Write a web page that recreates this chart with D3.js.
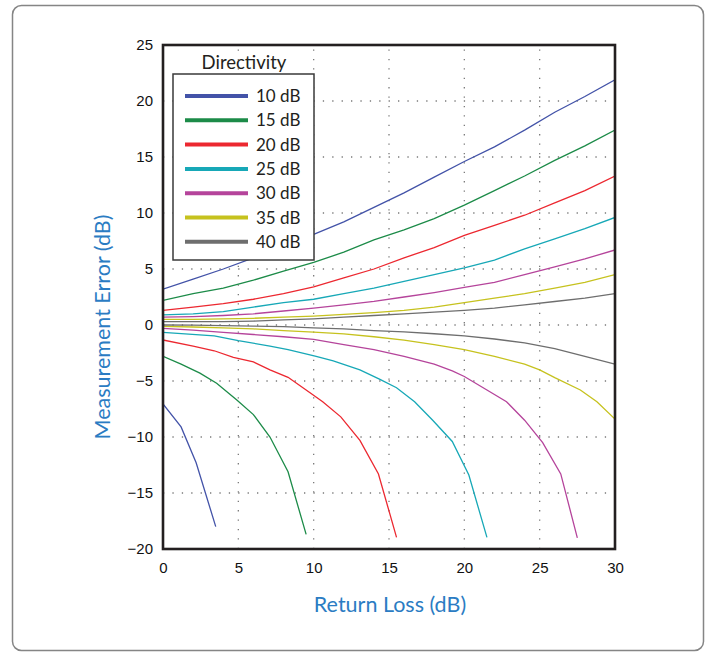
<!DOCTYPE html>
<html><head><meta charset="utf-8">
<script src="https://cdn.jsdelivr.net/npm/d3@7"></script>
<style>body{margin:0;background:#fff}svg{display:block}</style>
</head><body>
<svg id="c" width="709" height="653"></svg>
<script>
// ---- data ----
const xTicks = [0, 5, 10, 15, 20, 25, 30];
const yTicks = [25, 20, 15, 10, 5, 0, -5, -10, -15, -20];
const directivity = ["10 dB", "15 dB", "20 dB", "25 dB", "30 dB", "35 dB", "40 dB"];
const colors = ["#4353a8", "#1c8b48", "#ec2830", "#17a8b7", "#b5449b", "#c6c21e", "#6e6e6e"];

// upper error bounds [return loss, error]
const up10 = [[0,3.2],[2,4.1],[4,5.0],[6,6.0],[8,7.0],[10,8.1],[12,9.2],[14,10.5],[16,11.8],[18,13.2],[20,14.6],[22,15.9],[24,17.4],[26,19.0],[28,20.4],[30,21.9]];
const up15 = [[0,2.2],[2,2.8],[4,3.3],[6,4.0],[8,4.8],[10,5.6],[12,6.5],[14,7.6],[16,8.5],[18,9.5],[20,10.7],[22,12.0],[24,13.3],[26,14.7],[28,16.0],[30,17.4]];
const up20 = [[0,1.3],[2,1.6],[4,1.9],[6,2.3],[8,2.8],[10,3.4],[12,4.2],[14,5.0],[16,6.0],[18,6.9],[20,8.0],[22,8.9],[24,9.8],[26,10.9],[28,12.0],[30,13.3]];
const up25 = [[0,0.9],[2,1.0],[4,1.2],[6,1.6],[8,2.0],[10,2.3],[12,2.8],[14,3.3],[16,3.9],[18,4.5],[20,5.1],[22,5.8],[24,6.8],[26,7.7],[28,8.6],[30,9.6]];
const up30 = [[0,0.7],[2,0.75],[4,0.85],[6,1.0],[8,1.25],[10,1.5],[12,1.8],[14,2.1],[16,2.5],[18,2.9],[20,3.35],[22,3.8],[24,4.5],[26,5.2],[28,5.9],[30,6.7]];
const up35 = [[0,0.5],[2,0.5],[4,0.55],[6,0.6],[8,0.7],[10,0.8],[12,0.95],[14,1.1],[16,1.3],[18,1.6],[20,2.0],[22,2.4],[24,2.8],[26,3.3],[28,3.8],[30,4.5]];
const up40 = [[0,0.3],[2,0.3],[4,0.3],[6,0.35],[8,0.45],[10,0.55],[12,0.7],[14,0.85],[16,1.0],[18,1.15],[20,1.3],[22,1.5],[24,1.8],[26,2.1],[28,2.4],[30,2.8]];

// lower error bounds
const lo10 = [[0,-7.05],[1.2,-9.1],[2.2,-12.3],[3.5,-18.0]];
const lo15 = [[0,-2.8],[1.2,-3.5],[2.45,-4.3],[3.56,-5.2],[4.9,-6.7],[6.0,-8.0],[7.1,-10.0],[8.3,-13.1],[9.5,-18.7]];
const lo20 = [[0,-1.34],[2.0,-1.88],[3.4,-2.3],[4.67,-2.9],[6.0,-3.3],[7.1,-4.0],[8.3,-4.67],[9.5,-5.8],[10.6,-6.85],[11.8,-8.2],[13.07,-10.3],[14.3,-13.3],[15.5,-18.96]];
const lo25 = [[0,-0.65],[3.4,-0.98],[5,-1.4],[7.1,-1.88],[8.3,-2.2],[10.1,-2.77],[11.3,-3.2],[13.07,-4.0],[14.4,-4.85],[15.5,-5.6],[16.7,-6.85],[17.9,-8.5],[19.2,-10.4],[20.3,-13.4],[21.5,-18.96]];
const lo30 = [[0,-0.3],[2,-0.45],[4,-0.65],[6,-0.85],[8,-1.05],[10,-1.28],[12,-1.75],[14,-2.2],[16,-2.8],[18,-3.5],[19.2,-4.1],[20,-4.6],[21.5,-5.8],[22.8,-6.85],[24,-8.5],[25.2,-10.5],[26.4,-13.3],[27.5,-19.0]];
const lo35 = [[0,-0.12],[2,-0.18],[4,-0.25],[6,-0.35],[8,-0.5],[10,-0.63],[12,-0.8],[14,-1.05],[16,-1.35],[18,-1.75],[20,-2.2],[22,-2.8],[24,-3.5],[25,-4.0],[26,-4.7],[27.7,-5.8],[28.8,-6.85],[30,-8.4]];
const lo40 = [[0,0],[2,-0.02],[4,-0.05],[6,-0.1],[8,-0.15],[10,-0.25],[12,-0.35],[14,-0.5],[16,-0.62],[18,-0.78],[20,-0.97],[22,-1.25],[24,-1.6],[26,-2.1],[28,-2.8],[30,-3.5]];

const upper = [up10, up15, up20, up25, up30, up35, up40];
const lower = [lo10, lo15, lo20, lo25, lo30, lo35, lo40];

// ---- drawing ----
const svg = d3.select("#c");
const L = 163, R = 615, T = 45, B = 549;
const x = d3.scaleLinear().domain([0, 30]).range([L, R]);
const y = d3.scaleLinear().domain([-20, 25]).range([B, T]);

svg.append("rect").attr("x", 12.5).attr("y", 5.5).attr("width", 691).attr("height", 645)
  .attr("rx", 9).attr("fill", "#fff").attr("stroke", "#858585").attr("stroke-width", 1.5);

// grid
const grid = svg.append("g").attr("stroke", "#7a7a7a").attr("stroke-width", 1.3)
  .attr("stroke-dasharray", "1.3 8.1");
grid.selectAll("line.v").data(xTicks.filter(d => d > 0 && d < 30)).join("line")
  .attr("x1", d => x(d)).attr("x2", d => x(d)).attr("y1", B).attr("y2", T);
grid.selectAll("line.h").data(yTicks.filter(d => d > -20 && d < 25)).join("line")
  .attr("y1", d => y(d)).attr("y2", d => y(d)).attr("x1", L).attr("x2", R);

// axes (labels only)
const fontNum = "'Liberation Sans', Arial, sans-serif";
const xAxis = d3.axisBottom(x).tickValues(xTicks).tickSize(0).tickPadding(13);
const gx = svg.append("g").attr("transform", `translate(0,${B})`).call(xAxis);
gx.select(".domain").remove();
gx.selectAll("text").attr("font-family", fontNum).attr("font-size", 15).attr("fill", "#111");
const yAxis = d3.axisLeft(y).tickValues(yTicks).tickSize(0).tickPadding(10);
const gy = svg.append("g").attr("transform", `translate(${L},0)`).call(yAxis);
gy.select(".domain").remove();
gy.selectAll("text").attr("font-family", fontNum).attr("font-size", 15).attr("fill", "#111");

// lines
svg.append("clipPath").attr("id", "clip").append("rect")
  .attr("x", L).attr("y", T).attr("width", R - L).attr("height", B - T);
const line = d3.line().x(d => x(d[0])).y(d => y(d[1]));
const lg = svg.append("g").attr("clip-path", "url(#clip)").attr("fill", "none").attr("stroke-width", 1.3);
directivity.forEach((name, i) => {
  lg.append("path").attr("d", line(upper[i])).attr("stroke", colors[i]);
  lg.append("path").attr("d", line(lower[i])).attr("stroke", colors[i]);
});

// frame
svg.append("rect").attr("x", L).attr("y", T).attr("width", R - L).attr("height", B - T)
  .attr("fill", "none").attr("stroke", "#231f20").attr("stroke-width", 2.6);

// legend
const fontTxt = "Lato, 'Open Sans', sans-serif";
svg.append("text").attr("x", 244).attr("y", 69).attr("text-anchor", "middle")
  .attr("font-family", fontTxt).attr("font-size", 18.5).attr("fill", "#231f20").text("Directivity");
svg.append("rect").attr("x", 173).attr("y", 74).attr("width", 141).attr("height", 186)
  .attr("fill", "#fff").attr("stroke", "#3a3a3a").attr("stroke-width", 1.5);
const leg = svg.append("g");
directivity.forEach((name, i) => {
  const cy = 96 + i * 24.3;
  leg.append("line").attr("x1", 185).attr("x2", 248).attr("y1", cy).attr("y2", cy)
    .attr("stroke", colors[i]).attr("stroke-width", 4);
  leg.append("text").attr("x", 256).attr("y", cy).attr("dy", "0.36em")
    .attr("font-family", fontTxt).attr("font-size", 17).attr("fill", "#231f20").text(name);
});

// axis titles
svg.append("text").attr("x", 390).attr("y", 612).attr("text-anchor", "middle")
  .attr("font-family", fontTxt).attr("font-size", 21.5).attr("fill", "#2b7cc3").text("Return Loss (dB)");
svg.append("text").attr("transform", "translate(110,327) rotate(-90)").attr("text-anchor", "middle")
  .attr("font-family", fontTxt).attr("font-size", 21.5).attr("fill", "#2b7cc3").text("Measurement Error (dB)");
</script>
</body></html>
